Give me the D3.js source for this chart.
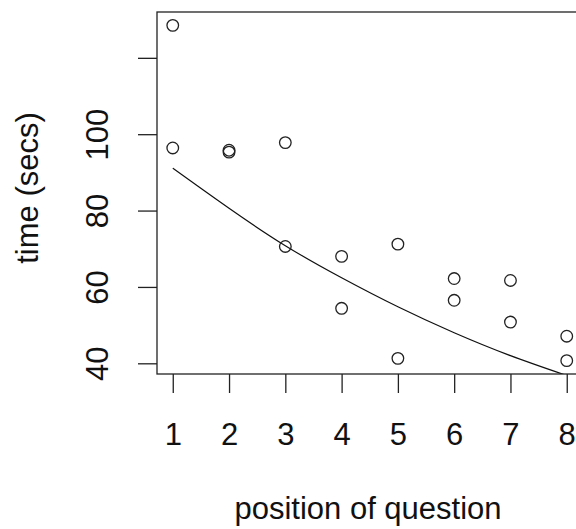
<!DOCTYPE html>
<html>
<head>
<meta charset="utf-8">
<script src="https://cdn.jsdelivr.net/npm/d3@7"></script>
<style>
  body { margin: 0; background: #fff; }
  svg text { font-family: "Liberation Sans", Arial, sans-serif; fill: #111; }
</style>
</head>
<body>
<div id="chart"></div>
<script>
// observations: position of question vs time
var positions = [1, 1, 2, 2, 3, 3, 4, 4, 5, 5, 6, 6, 7, 7, 8, 8];
var times = [128.5, 96.4, 95.8, 95.3, 97.8, 70.6, 68.0, 54.4, 71.2, 41.3, 62.2, 56.5, 61.7, 50.8, 47.1, 40.7];

// fitted curve at each position
var fitX = [1, 2, 3, 4, 5, 6, 7, 8];
var fitY = [91.1, 80.6, 70.8, 62.4, 54.8, 48.0, 42.0, 36.8];

var xTicks = [1, 2, 3, 4, 5, 6, 7, 8];
var yTicks = [40, 60, 80, 100, 120];
var yTickLabels = ["40", "60", "80", "100", ""];

var width = 576, height = 529;
// plot box (window.top is taken, so prefix these)
var boxLeft = 157, boxTop = 12, boxBottom = 374, boxRight = 582.5;

var svg = d3.select("#chart").append("svg")
    .attr("width", width)
    .attr("height", height);

var x = d3.scaleLinear().domain([0.72, 8.28]).range([boxLeft, boxRight]);
var y = d3.scaleLinear().domain([37.2, 132]).range([boxBottom, boxTop]);

svg.append("clipPath").attr("id", "plotClip")
    .append("rect")
    .attr("x", boxLeft).attr("y", boxTop)
    .attr("width", boxRight - boxLeft).attr("height", boxBottom - boxTop);

// y axis
var yAxis = svg.append("g")
    .attr("transform", "translate(" + boxLeft + ",0)")
    .call(d3.axisLeft(y).tickValues(yTicks).tickSize(19)
        .tickFormat(function (d, i) { return yTickLabels[i]; }));
yAxis.select(".domain").remove();
yAxis.selectAll("line").attr("stroke", "#222").attr("stroke-width", 1.3);
yAxis.selectAll("text")
    .attr("x", null).attr("dy", null)
    .attr("transform", "translate(-49,0) rotate(-90)")
    .attr("text-anchor", "middle")
    .style("font-size", "31px")
    .style("font-family", "'Liberation Sans', Arial, sans-serif")
    .attr("fill", "#111");

// x axis
var xAxis = svg.append("g")
    .attr("transform", "translate(0," + boxBottom + ")")
    .call(d3.axisBottom(x).tickValues(xTicks).tickSize(19).tickFormat(d3.format("d")));
xAxis.select(".domain").remove();
xAxis.selectAll("line").attr("stroke", "#222").attr("stroke-width", 1.3);
xAxis.selectAll("text")
    .attr("y", 71).attr("dy", null)
    .style("font-size", "31px")
    .style("font-family", "'Liberation Sans', Arial, sans-serif")
    .attr("fill", "#111");

// fitted line
var line = d3.line()
    .x(function (d, i) { return x(fitX[i]); })
    .y(function (d) { return y(d); })
    .curve(d3.curveNatural);

svg.append("path")
    .datum(fitY)
    .attr("clip-path", "url(#plotClip)")
    .attr("d", line)
    .attr("fill", "none")
    .attr("stroke", "#111")
    .attr("stroke-width", 1.2);

// points
svg.append("g").selectAll("circle")
    .data(times)
    .enter().append("circle")
    .attr("cx", function (d, i) { return x(positions[i]); })
    .attr("cy", function (d) { return y(d); })
    .attr("r", 5.8)
    .attr("fill", "none")
    .attr("stroke", "#222")
    .attr("stroke-width", 1.3);

// plot box
svg.append("rect")
    .attr("x", boxLeft).attr("y", boxTop)
    .attr("width", boxRight - boxLeft).attr("height", boxBottom - boxTop)
    .attr("fill", "none")
    .attr("stroke", "#222")
    .attr("stroke-width", 1.3);

// axis titles
svg.append("text")
    .attr("x", 368).attr("y", 519)
    .attr("text-anchor", "middle")
    .style("font-size", "31px")
    .text("position of question");

svg.append("text")
    .attr("transform", "translate(38,188) rotate(-90)")
    .attr("text-anchor", "middle")
    .style("font-size", "31px")
    .text("time (secs)");
</script>
</body>
</html>
